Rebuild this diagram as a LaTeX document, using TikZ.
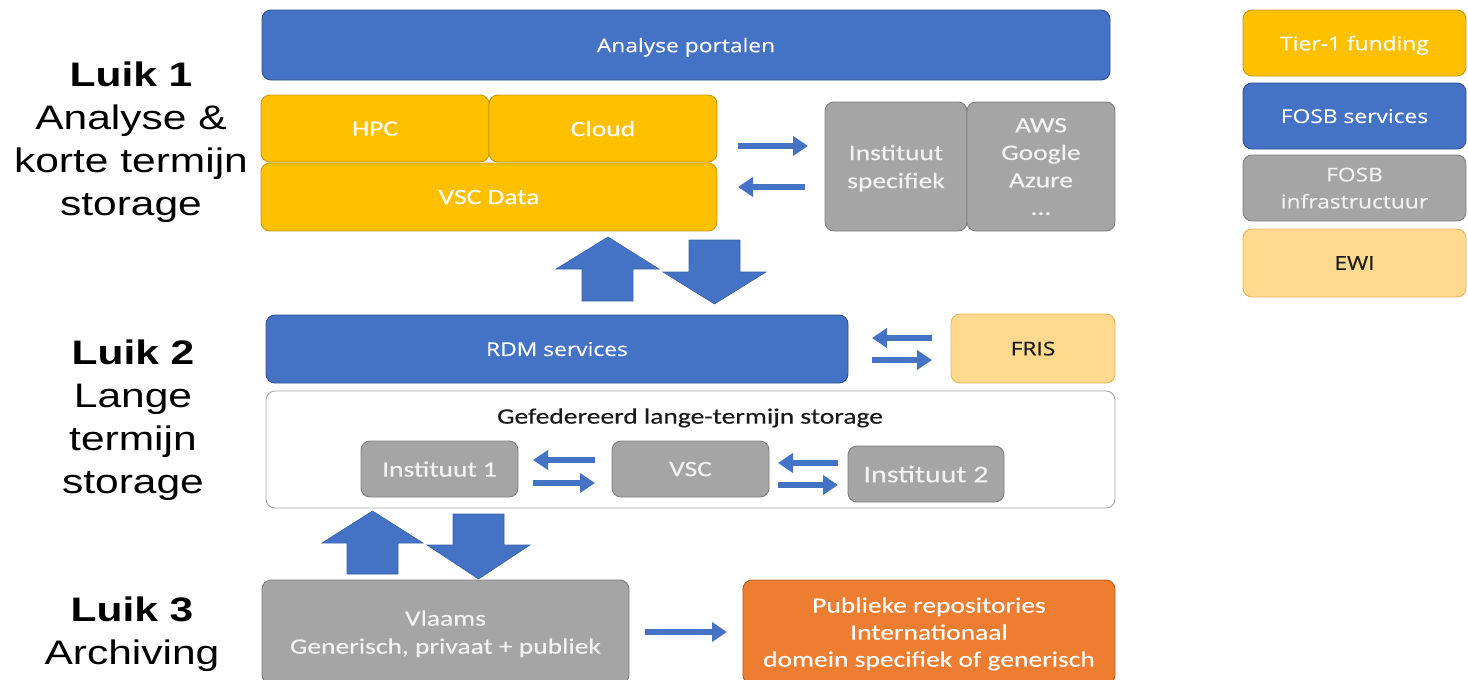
\documentclass[tikz,border=0pt]{standalone}
\usepackage{fontspec}
\setmainfont[FakeStretch=1.25,FakeBold=0.3]{Carlito}
\newfontfamily\arialw[FakeStretch=1.25]{Liberation Sans}
\newfontfamily\osans[FakeStretch=1.2,FakeBold=0.3]{Open Sans}
\usetikzlibrary{arrows.meta}
\definecolor{cblue}{HTML}{4472C4}
\definecolor{cblueb}{HTML}{2F528F}
\definecolor{cgold}{HTML}{FFC000}
\definecolor{cgoldb}{HTML}{C99A06}
\definecolor{cgray}{HTML}{A5A5A5}
\definecolor{cgrayb}{HTML}{808080}
\definecolor{clight}{HTML}{FFD98E}
\definecolor{clightb}{HTML}{E3B65C}
\definecolor{corange}{HTML}{ED7D31}
\definecolor{corangeb}{HTML}{C55A11}
\definecolor{cframe}{HTML}{A6A6A6}
\definecolor{ctext}{HTML}{1A1A1A}
\tikzset{
  box/.style={rounded corners=9pt, inner sep=0pt, outer sep=0pt, align=center, text depth=0pt,
    font=\fontsize{22}{28}\selectfont, text=white, line width=0.9pt},
  bluebox/.style={box, fill=cblue, draw=cblueb},
  goldbox/.style={box, fill=cgold, draw=cgoldb},
  graybox/.style={box, fill=cgray, draw=cgrayb, text=white!95!black},
  lightbox/.style={box, fill=clight, draw=clightb, text=ctext},
  orangebox/.style={box, fill=corange, draw=corangeb},
  framebox/.style={box, fill=white, draw=cframe},
  sanslabel/.style={font=\osans\fontsize{19}{24}\selectfont},
  sidelabel/.style={align=center, font=\arialw\fontsize{34}{43}\selectfont, text=black, inner sep=0pt},
  tarrow/.style={draw=cblue, line width=6.5pt, -{Triangle[length=15pt,width=19pt]}},
  bigarrow/.style={fill=cblue, draw=cblue!85!black, line width=0.6pt, line join=miter}
}
\begin{document}
\begin{tikzpicture}[x=1pt,y=-1pt]
\useasboundingbox (0,0) rectangle (1468,680);

% side labels
\node[sidelabel] (luik1) at (131,142.5) {{\bfseries Luik 1}\\Analyse \&\\korte termijn\\storage};
\node[sidelabel] (luik2) at (133,420.5) {{\bfseries Luik 2}\\Lange\\termijn\\storage};
\node[sidelabel] (luik3) at (132,634.5) {{\bfseries Luik 3}\\Archiving};

% Luik 1
\node[bluebox, sanslabel, minimum width=848pt, minimum height=70pt] (portal) at (686,45) {Analyse portalen};
\node[goldbox, minimum width=228pt, minimum height=67pt] (hpc) at (375,128.5) {HPC};
\node[goldbox, minimum width=228pt, minimum height=67pt] (cloud) at (603,128.5) {Cloud};
\node[goldbox, minimum width=456pt, minimum height=68pt] (vscdata) at (489,197) {VSC Data};
\node[graybox, minimum width=142pt, minimum height=129pt] (inst) at (896,166.5) {Instituut\\specifiek};
\node[graybox, minimum width=148pt, minimum height=129pt, font=\fontsize{22}{27.5}\selectfont] (aws) at (1041,166.5) {AWS\\Google\\Azure\\\ldots};

\draw[tarrow, shorten <=21pt, shorten >=17pt] (cloud.east |- 0,146) -- (inst.west |- 0,146);
\draw[tarrow, shorten <=20pt, shorten >=21pt] (inst.west |- 0,187) -- (vscdata.east |- 0,187);

% big arrows 1
\draw[bigarrow] (608,237) -- (659,269) -- (633,269) -- (633,301) -- (582,301) -- (582,269) -- (556,269) -- cycle;
\draw[bigarrow] (689,240) -- (740,240) -- (740,272) -- (766,272) -- (714.5,304) -- (663,272) -- (689,272) -- cycle;

% Luik 2
\node[bluebox, sanslabel, minimum width=582pt, minimum height=68pt] (rdm) at (557,349) {RDM services};
\node[lightbox, sanslabel, minimum width=164pt, minimum height=69pt] (fris) at (1033,348.5) {FRIS};
\draw[tarrow, shorten <=19pt, shorten >=24pt] (fris.west |- 0,338) -- (rdm.east |- 0,338);
\draw[tarrow, shorten <=24pt, shorten >=19pt] (rdm.east |- 0,360) -- (fris.west |- 0,360);

\node[framebox, minimum width=849pt, minimum height=117pt] (fed) at (690.5,449.5) {};
\node[text=ctext, font=\fontsize{22}{28}\selectfont, inner sep=0pt, text depth=0pt] (fedtitle) at (690,416) {Gefedereerd lange-termijn storage};
\node[graybox, minimum width=157pt, minimum height=56pt] (inst1) at (439.5,469) {Instituut 1};
\node[graybox, minimum width=157pt, minimum height=56pt] (vsc) at (690.5,469) {VSC};
\node[graybox, minimum width=156pt, minimum height=56pt, font=\fontsize{24}{28}\selectfont] (inst2) at (926,474) {Instituut 2};

\draw[tarrow, shorten <=17pt, shorten >=15pt] (vsc.west |- 0,460) -- (inst1.east |- 0,460);
\draw[tarrow, shorten <=15pt, shorten >=17pt] (inst1.east |- 0,483) -- (vsc.west |- 0,483);
\draw[tarrow, shorten <=10pt, shorten >=9pt] (inst2.west |- 0,463) -- (vsc.east |- 0,463);
\draw[tarrow, shorten <=9pt, shorten >=10pt] (vsc.east |- 0,485) -- (inst2.west |- 0,485);

% big arrows 2
\draw[bigarrow] (372.5,511) -- (423,543) -- (398,543) -- (398,574) -- (347,574) -- (347,543) -- (322,543) -- cycle;
\draw[bigarrow] (453,514) -- (504,514) -- (504,545) -- (530,545) -- (478.5,579) -- (427,545) -- (453,545) -- cycle;

% Luik 3
\node[graybox, minimum width=367pt, minimum height=104pt] (vlaams) at (445.5,632) {Vlaams\\Generisch, privaat + publiek};
\node[orangebox, minimum width=372pt, minimum height=104pt, font=\fontsize{22}{27}\selectfont] (pub) at (929,632) {Publieke repositories\\Internationaal\\domein specifiek of generisch};
\draw[tarrow, shorten <=16pt, shorten >=16pt] (vlaams.east |- 0,632) -- (pub.west |- 0,632);

% legend
\node[goldbox, sanslabel, minimum width=223pt, minimum height=66pt] (leg1) at (1354.5,43) {Tier-1 funding};
\node[bluebox, sanslabel, minimum width=223pt, minimum height=66pt] (leg2) at (1354.5,116) {FOSB services};
\node[graybox, sanslabel, minimum width=223pt, minimum height=66pt, font=\osans\fontsize{19}{27}\selectfont] (leg3) at (1354.5,188) {FOSB\\infrastructuur};
\node[lightbox, sanslabel, minimum width=223pt, minimum height=68pt] (leg4) at (1354.5,263) {EWI};
\end{tikzpicture}
\end{document}
